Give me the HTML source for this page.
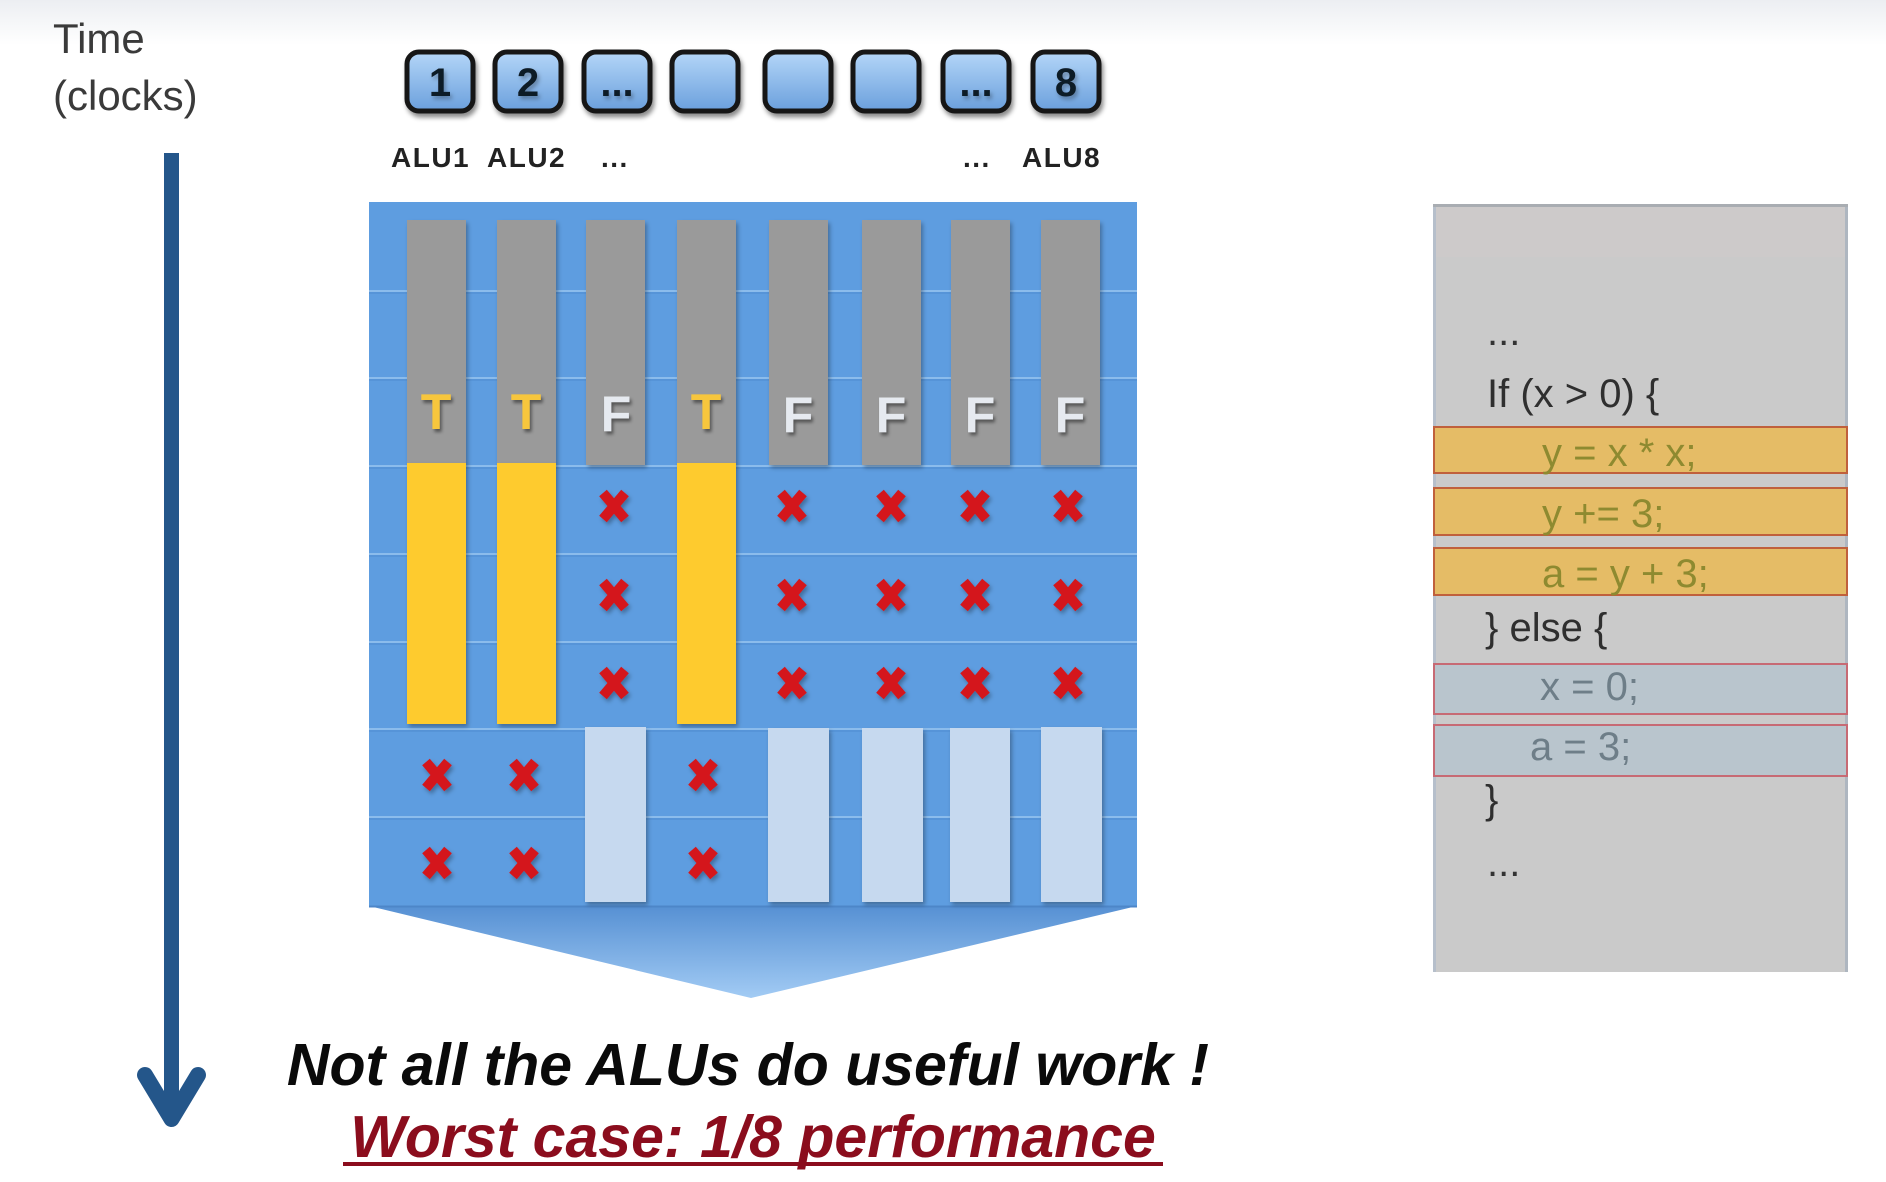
<!DOCTYPE html>
<html>
<head>
<meta charset="utf-8">
<style>
  html,body{margin:0;padding:0;background:#fff;}
  body{width:1886px;height:1182px;overflow:hidden;}
  svg{display:block;}
  text{font-family:"Liberation Sans", Arial, sans-serif;}
</style>
</head>
<body>
<svg width="1886" height="1182" viewBox="0 0 1886 1182" xmlns="http://www.w3.org/2000/svg">
  <defs>
    <linearGradient id="topband" x1="0" y1="0" x2="0" y2="1">
      <stop offset="0" stop-color="#eceef2"/>
      <stop offset="1" stop-color="#ffffff"/>
    </linearGradient>
    <linearGradient id="alubox" x1="0" y1="0" x2="0" y2="1">
      <stop offset="0" stop-color="#b4d6f8"/>
      <stop offset="1" stop-color="#6a9fdc"/>
    </linearGradient>
    <linearGradient id="chev" x1="0" y1="0" x2="0" y2="1">
      <stop offset="0" stop-color="#5690d3"/>
      <stop offset="1" stop-color="#a2cbf4"/>
    </linearGradient>
    <filter id="sh" x="-20%" y="-20%" width="150%" height="150%">
      <feDropShadow dx="2" dy="4" stdDeviation="2.5" flood-color="#000" flood-opacity="0.45"/>
    </filter>
    <filter id="sh2" x="-20%" y="-20%" width="150%" height="150%">
      <feDropShadow dx="2" dy="3" stdDeviation="2" flood-color="#000" flood-opacity="0.3"/>
    </filter>
    <filter id="tsh" x="-30%" y="-30%" width="160%" height="160%">
      <feDropShadow dx="2" dy="3" stdDeviation="1.5" flood-color="#000" flood-opacity="0.45"/>
    </filter>
  </defs>

  <!-- top light band -->
  <rect x="0" y="0" width="1886" height="45" fill="url(#topband)"/>

  <!-- Time label -->
  <text x="53" y="53" font-size="42" fill="#3a3a3a">Time</text>
  <text x="53" y="110" font-size="42" fill="#3a3a3a">(clocks)</text>

  <!-- Time arrow -->
  <rect x="164" y="153" width="15" height="960" fill="#24568a"/>
  <polyline points="145,1075 171.5,1119 198,1075" fill="none" stroke="#24568a" stroke-width="16" stroke-linecap="round" stroke-linejoin="round"/>
  <polygon points="150,1078 171.5,1114 193,1078 171.5,1100" fill="#24568a"/>

  <!-- ALU header boxes -->
  <g filter="url(#sh)">
    <rect x="407" y="52" width="66" height="59" rx="12" fill="url(#alubox)" stroke="#141414" stroke-width="5"/>
    <rect x="495" y="52" width="66" height="59" rx="12" fill="url(#alubox)" stroke="#141414" stroke-width="5"/>
    <rect x="584" y="52" width="66" height="59" rx="12" fill="url(#alubox)" stroke="#141414" stroke-width="5"/>
    <rect x="672" y="52" width="66" height="59" rx="12" fill="url(#alubox)" stroke="#141414" stroke-width="5"/>
    <rect x="765" y="52" width="66" height="59" rx="12" fill="url(#alubox)" stroke="#141414" stroke-width="5"/>
    <rect x="853" y="52" width="66" height="59" rx="12" fill="url(#alubox)" stroke="#141414" stroke-width="5"/>
    <rect x="943" y="52" width="66" height="59" rx="12" fill="url(#alubox)" stroke="#141414" stroke-width="5"/>
    <rect x="1033" y="52" width="66" height="59" rx="12" fill="url(#alubox)" stroke="#141414" stroke-width="5"/>
  </g>
  <g font-weight="bold" font-size="40" fill="#101a28" text-anchor="middle" filter="url(#sh2)">
    <text x="440" y="96">1</text>
    <text x="528" y="96">2</text>
    <text x="617" y="96">...</text>
    <text x="976" y="96">...</text>
    <text x="1066" y="96">8</text>
  </g>

  <!-- ALU labels -->
  <g font-weight="bold" font-size="28" fill="#222" letter-spacing="1.5">
    <text x="391" y="167">ALU1</text>
    <text x="487" y="167">ALU2</text>
    <text x="601" y="167">...</text>
    <text x="963" y="167">...</text>
    <text x="1022" y="167">ALU8</text>
  </g>

  <!-- Blue panel -->
  <rect x="369" y="202" width="768" height="704" fill="#5e9de0"/>
  <g stroke="#8bbcec" stroke-width="2">
    <line x1="369" y1="291" x2="1137" y2="291"/>
    <line x1="369" y1="378" x2="1137" y2="378"/>
    <line x1="369" y1="466" x2="1137" y2="466"/>
    <line x1="369" y1="554" x2="1137" y2="554"/>
    <line x1="369" y1="642" x2="1137" y2="642"/>
    <line x1="369" y1="729" x2="1137" y2="729"/>
    <line x1="369" y1="817" x2="1137" y2="817"/>
  </g>
  <g stroke="#4f8cd0" stroke-width="1">
    <line x1="369" y1="293" x2="1137" y2="293"/>
    <line x1="369" y1="380" x2="1137" y2="380"/>
    <line x1="369" y1="468" x2="1137" y2="468"/>
    <line x1="369" y1="556" x2="1137" y2="556"/>
    <line x1="369" y1="644" x2="1137" y2="644"/>
    <line x1="369" y1="731" x2="1137" y2="731"/>
    <line x1="369" y1="819" x2="1137" y2="819"/>
  </g>

  <!-- Chevron -->
  <polygon points="369,906 1137,906 751,998" fill="url(#chev)"/>
  <line x1="369" y1="906.5" x2="1137" y2="906.5" stroke="#4d86c8" stroke-width="2"/>

  <!-- Gray condition bars -->
  <g fill="#9a9a9a" filter="url(#sh2)">
    <rect x="407" y="220" width="59" height="244"/>
    <rect x="497" y="220" width="59" height="244"/>
    <rect x="586" y="220" width="59" height="245"/>
    <rect x="677" y="220" width="59" height="244"/>
    <rect x="769" y="220" width="59" height="245"/>
    <rect x="862" y="220" width="59" height="245"/>
    <rect x="951" y="220" width="59" height="245"/>
    <rect x="1041" y="220" width="59" height="245"/>
  </g>

  <!-- Yellow bars -->
  <g fill="#fecb2f" filter="url(#sh2)">
    <rect x="407" y="463" width="59" height="261"/>
    <rect x="497" y="463" width="59" height="261"/>
    <rect x="677" y="463" width="59" height="261"/>
  </g>

  <!-- Light blue bars -->
  <g fill="#c6d9ef" filter="url(#sh2)">
    <rect x="585" y="727" width="61" height="175"/>
    <rect x="768" y="728" width="61" height="174"/>
    <rect x="862" y="728" width="61" height="174"/>
    <rect x="950" y="728" width="60" height="174"/>
    <rect x="1041" y="727" width="61" height="175"/>
  </g>

  <!-- T / F letters -->
  <g font-weight="bold" font-size="50" text-anchor="middle" filter="url(#tsh)">
    <text x="436" y="429" fill="#f7c63c">T</text>
    <text x="526" y="429" fill="#f7c63c">T</text>
    <text x="616" y="431" fill="#e6eaf0">F</text>
    <text x="706" y="429" fill="#f7c63c">T</text>
    <text x="798" y="432" fill="#e6eaf0">F</text>
    <text x="891" y="432" fill="#e6eaf0">F</text>
    <text x="980" y="432" fill="#e6eaf0">F</text>
    <text x="1070" y="432" fill="#e6eaf0">F</text>
  </g>

  <!-- Red X marks -->
  <g stroke="#d4161b" stroke-width="10" stroke-linecap="butt" filter="url(#sh2)" fill="none">
    <!-- rows 4-6, cols 3,5,6,7,8 -->
    <path d="M603,493 L625,519 M625,493 L603,519"/>
    <path d="M781,493 L803,519 M803,493 L781,519"/>
    <path d="M880,493 L902,519 M902,493 L880,519"/>
    <path d="M964,493 L986,519 M986,493 L964,519"/>
    <path d="M1057,493 L1079,519 M1079,493 L1057,519"/>

    <path d="M603,582 L625,608 M625,582 L603,608"/>
    <path d="M781,582 L803,608 M803,582 L781,608"/>
    <path d="M880,582 L902,608 M902,582 L880,608"/>
    <path d="M964,582 L986,608 M986,582 L964,608"/>
    <path d="M1057,582 L1079,608 M1079,582 L1057,608"/>

    <path d="M603,670 L625,696 M625,670 L603,696"/>
    <path d="M781,670 L803,696 M803,670 L781,696"/>
    <path d="M880,670 L902,696 M902,670 L880,696"/>
    <path d="M964,670 L986,696 M986,670 L964,696"/>
    <path d="M1057,670 L1079,696 M1079,670 L1057,696"/>

    <!-- rows 7-8, cols 1,2,4 -->
    <path d="M426,762 L448,788 M448,762 L426,788"/>
    <path d="M513,762 L535,788 M535,762 L513,788"/>
    <path d="M692,762 L714,788 M714,762 L692,788"/>

    <path d="M426,850 L448,876 M448,850 L426,876"/>
    <path d="M513,850 L535,876 M535,850 L513,876"/>
    <path d="M692,850 L714,876 M714,850 L692,876"/>
  </g>

  <!-- Bottom text -->
  <text x="748" y="1085" font-size="59" font-weight="bold" font-style="italic" fill="#0a0a0a" text-anchor="middle">Not all the ALUs do useful work !</text>
  <text x="753" y="1157" font-size="59" font-weight="bold" font-style="italic" fill="#8b0d1d" text-anchor="middle">Worst case: 1/8 performance</text>
  <rect x="343" y="1162" width="820" height="4" fill="#8b0d1d"/>

  <!-- Code panel -->
  <rect x="1433" y="204" width="415" height="768" fill="#cacaca"/>
  <rect x="1433" y="204" width="3" height="768" fill="#b6bfcb"/>
  <rect x="1845" y="204" width="3" height="768" fill="#aeb6c0"/>
  <rect x="1433" y="204" width="415" height="3" fill="#a9adb2"/>
  <rect x="1436" y="207" width="409" height="50" fill="#cfc9c9" opacity="0.6"/>

  <!-- yellow highlighted lines -->
  <g fill="#e5bc66" stroke="#c0603c" stroke-width="2">
    <rect x="1434" y="427" width="413" height="46"/>
    <rect x="1434" y="488" width="413" height="47"/>
    <rect x="1434" y="548" width="413" height="47"/>
  </g>
  <!-- gray highlighted lines -->
  <g fill="#b9c5cd" stroke="#c76a74" stroke-width="2">
    <rect x="1434" y="664" width="413" height="50"/>
    <rect x="1434" y="725" width="413" height="51"/>
  </g>

  <g font-size="40">
    <text x="1487" y="345" fill="#333">...</text>
    <text x="1487" y="407" fill="#2f2f2f">If (x &gt; 0) {</text>
    <text x="1542" y="466" fill="#8e8a30">y = x * x;</text>
    <text x="1542" y="527" fill="#8e8a30">y += 3;</text>
    <text x="1542" y="587" fill="#8e8a30">a = y + 3;</text>
    <text x="1485" y="641" fill="#2f2f2f">} else {</text>
    <text x="1540" y="700" fill="#6e7e88">x = 0;</text>
    <text x="1530" y="760" fill="#6e7e88">a = 3;</text>
    <text x="1485" y="813" fill="#2f2f2f">}</text>
    <text x="1487" y="876" fill="#333">...</text>
  </g>
</svg>
</body>
</html>
